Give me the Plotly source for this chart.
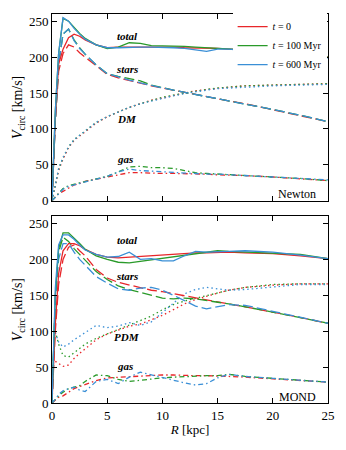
import plotly.graph_objects as go
from plotly.subplots import make_subplots

# radius grid [kpc]
r = [0, 0.3, 0.6, 1, 1.5, 2, 2.5, 3, 4, 5, 6, 7, 8, 9, 10, 11, 12, 13, 14, 15, 16, 17.5, 20, 22.5, 25]
r_pdm = r[1:]

times = ["<i>t</i> = 0", "<i>t</i> = 100 Myr", "<i>t</i> = 600 Myr"]
colors = ["#e8262a", "#2a9a2a", "#3a8fd6"]

# Newton panel
newton_total_t0 = [0, 115, 190, 211, 227, 232, 229, 224, 217, 213, 214, 214, 214, 215, 215, 214, 213, 213, 212, 212, 211, 210, 207, 204, 200]
newton_total_t100 = [0, 125, 205, 254, 250, 241, 233, 226, 217, 212, 214, 220, 219, 216, 216, 215, 215, 214, 213, 213, 212, 210, 207, 204, 200]
newton_total_t600 = [0, 125, 205, 255, 250, 240, 232, 225, 217, 213, 213, 214, 214, 214, 214, 213, 212, 210, 208, 211, 211, 209, 206, 203, 199]

newton_stars_t0 = [0, 110, 180, 205, 217, 214, 206, 200, 187, 176, 171, 167, 163, 160, 157, 154, 150, 147, 145, 142, 139, 135, 127, 119, 110]
newton_stars_t100 = [0, 110, 190, 232, 239, 224, 213, 204, 189, 177, 173, 170, 167, 161, 157, 154, 151, 148, 145, 142, 140, 135, 127, 119, 110]
newton_stars_t600 = [0, 110, 190, 232, 239, 223, 212, 204, 189, 177, 172, 168, 164, 160, 157, 154, 151, 148, 145, 142, 140, 135, 127, 119, 110]

newton_dm_t0 = [0, 22, 42, 58, 74, 84, 90, 96, 108, 117, 124, 130, 135, 140, 143, 147, 150, 153, 155, 157, 158, 160, 161, 162, 163]
newton_dm_t100 = [0, 24, 44, 60, 75, 85, 91, 97, 109, 117, 124, 130, 135, 140, 144, 147, 150, 153, 155, 157, 158, 160, 161, 162, 163]
newton_dm_t600 = [0, 25, 45, 60, 75, 85, 91, 96, 109, 117, 124, 130, 135, 139, 143, 146, 149, 152, 154, 156, 157, 158, 160, 161, 162]

newton_gas_t0 = [0, 5, 10, 13, 18, 22, 24, 27, 30, 33, 37, 39, 39, 38, 38, 38, 38, 37, 37, 36, 36, 35, 33, 31, 28]
newton_gas_t100 = [0, 5, 10, 17, 21, 23, 25, 27, 31, 34, 40, 47, 48, 46, 46, 45, 42, 39, 38, 37, 36, 35, 33, 31, 28]
newton_gas_t600 = [0, 5, 10, 16, 20, 22, 24, 27, 31, 34, 40, 44, 42, 41, 40, 39, 38, 38, 37, 37, 36, 35, 33, 31, 29]

# MOND panel
mond_total_t0 = [0, 110, 180, 212, 222, 222, 219, 214, 207, 203, 202, 203, 204, 205, 207, 208, 208, 209, 209, 210, 210, 209, 208, 205, 201]
mond_total_t100 = [0, 150, 215, 237, 237, 230, 222, 214, 205, 200, 196, 195, 197, 199, 202, 204, 206, 208, 210, 212, 211, 210, 209, 207, 201]
mond_total_t600 = [0, 160, 220, 234, 234, 228, 220, 213, 207, 203, 204, 210, 200, 201, 198, 198, 205, 211, 210, 211, 211, 212, 210, 206, 201]

mond_stars_t0 = [0, 100, 165, 200, 217, 220, 212, 205, 186, 174, 168, 164, 160, 157, 155, 152, 149, 146, 143, 141, 138, 134, 127, 119, 111]
mond_stars_t100 = [0, 150, 210, 231, 225, 215, 207, 199, 183, 172, 163, 158, 154, 150, 146, 145, 146, 145, 143, 141, 138, 134, 127, 119, 111]
mond_stars_t600 = [0, 140, 200, 222, 222, 210, 200, 192, 176, 167, 159, 157, 160, 161, 157, 150, 143, 135, 131, 134, 137, 136, 128, 120, 111]

mond_pdm_t0 = [58, 55, 51, 53, 62, 69, 75, 88, 96, 102, 107, 110, 116, 122, 130, 138, 144, 149, 153, 157, 161, 164, 166, 166]
mond_pdm_t100 = [100, 82, 66, 64, 70, 76, 82, 90, 96, 102, 108, 114, 121, 130, 137, 142, 146, 150, 154, 157, 161, 165, 166, 166]
mond_pdm_t600 = [98, 85, 78, 82, 88, 93, 98, 108, 105, 107, 112, 108, 113, 126, 140, 152, 158, 161, 159, 157, 158, 162, 165, 165]

mond_gas_t0 = [0, 4, 8, 10, 15, 20, 23, 26, 31, 35, 36, 37, 38, 38, 39, 39, 38, 38, 38, 37, 37, 36, 34, 32, 29]
mond_gas_t100 = [0, 5, 10, 15, 20, 22, 24, 30, 39, 38, 33, 30, 32, 34, 35, 36, 37, 37, 38, 38, 40, 37, 34, 32, 29]
mond_gas_t600 = [0, 5, 12, 17, 20, 22, 18, 16, 30, 33, 27, 36, 43, 39, 35, 32, 28, 25, 27, 35, 40, 37, 34, 32, 29]

panels = [
    (1, "Newton", [
        ("total", r, [newton_total_t0, newton_total_t100, newton_total_t600], "solid"),
        ("stars", r, [newton_stars_t0, newton_stars_t100, newton_stars_t600], "10px,4px"),
        ("DM", r, [newton_dm_t0, newton_dm_t100, newton_dm_t600], "1.5px,3px"),
        ("gas", r, [newton_gas_t0, newton_gas_t100, newton_gas_t600], "5px,3px,1.5px,3px"),
    ]),
    (2, "MOND", [
        ("total", r, [mond_total_t0, mond_total_t100, mond_total_t600], "solid"),
        ("stars", r, [mond_stars_t0, mond_stars_t100, mond_stars_t600], "10px,4px"),
        ("PDM", r_pdm, [mond_pdm_t0, mond_pdm_t100, mond_pdm_t600], "1.5px,3px"),
        ("gas", r, [mond_gas_t0, mond_gas_t100, mond_gas_t600], "5px,3px,1.5px,3px"),
    ]),
]

# label positions (R, V) per panel
label_pos = {
    1: {"total": (6.8, 229), "stars": (6.8, 183), "DM": (6.8, 114), "gas": (6.6, 58)},
    2: {"total": (6.8, 227), "stars": (6.8, 177), "PDM": (6.8, 92), "gas": (6.6, 51)},
}

fig = make_subplots(rows=2, cols=1, vertical_spacing=0.04)

serif = "Liberation Serif"

for row, name, comps in panels:
    ax = "" if row == 1 else str(row)
    # draw components back to front, totals last
    for comp, xs, series, dash in reversed(comps):
        for i, ys in enumerate(series):
            fig.add_trace(go.Scatter(
                x=xs, y=ys, mode="lines",
                line=dict(color=colors[i], width=1.3, dash=dash),
                name=times[i],
                showlegend=(row == 1 and comp == "total"),
                legendrank=i + 1,
            ), row=row, col=1)
    for comp, (lx, ly) in label_pos[row].items():
        fig.add_annotation(x=lx, y=ly, text=f"<b><i>{comp}</i></b>", showarrow=False,
                           font=dict(family=serif, size=11, color="black"),
                           xref="x" + ax, yref="y" + ax)
    fig.add_annotation(x=24.1, y=9, text=name, showarrow=False, xanchor="right",
                       font=dict(family=serif, size=12, color="black"),
                       xref="x" + ax, yref="y" + ax)

axis_style = dict(showline=True, linecolor="black", linewidth=1, mirror="ticks",
                  ticks="inside", ticklen=5, tickcolor="black", showgrid=False,
                  zeroline=False, tickfont=dict(family=serif, size=13, color="black"))

fig.update_xaxes(range=[0, 25], tickvals=[0, 5, 10, 15, 20, 25], **axis_style)
fig.update_xaxes(showticklabels=False, row=1, col=1)
fig.update_xaxes(title=dict(text="<i>R</i> [kpc]", font=dict(family=serif, size=13, color="black"), standoff=3), row=2, col=1)
fig.update_yaxes(range=[0, 260], tickvals=[0, 50, 100, 150, 200, 250], **axis_style)
fig.update_yaxes(title=dict(text="<i>V</i><sub>circ</sub> [km/s]", font=dict(family=serif, size=14, color="black"), standoff=2))

fig.update_layout(
    width=346, height=450,
    margin=dict(l=52, r=18, t=12, b=47),
    plot_bgcolor="white", paper_bgcolor="white",
    font=dict(family=serif, color="black"),
    legend=dict(x=0.995, y=1.005, xanchor="right", yanchor="top",
                bgcolor="white", font=dict(family=serif, size=10, color="black"),
                tracegroupgap=0, itemwidth=30),
)

# drop the default body margin so the figure sits at the window origin
fig.write_html("out.html", config={"displayModeBar": False},
               post_script="document.body.style.margin='0';document.body.style.overflow='hidden';")
